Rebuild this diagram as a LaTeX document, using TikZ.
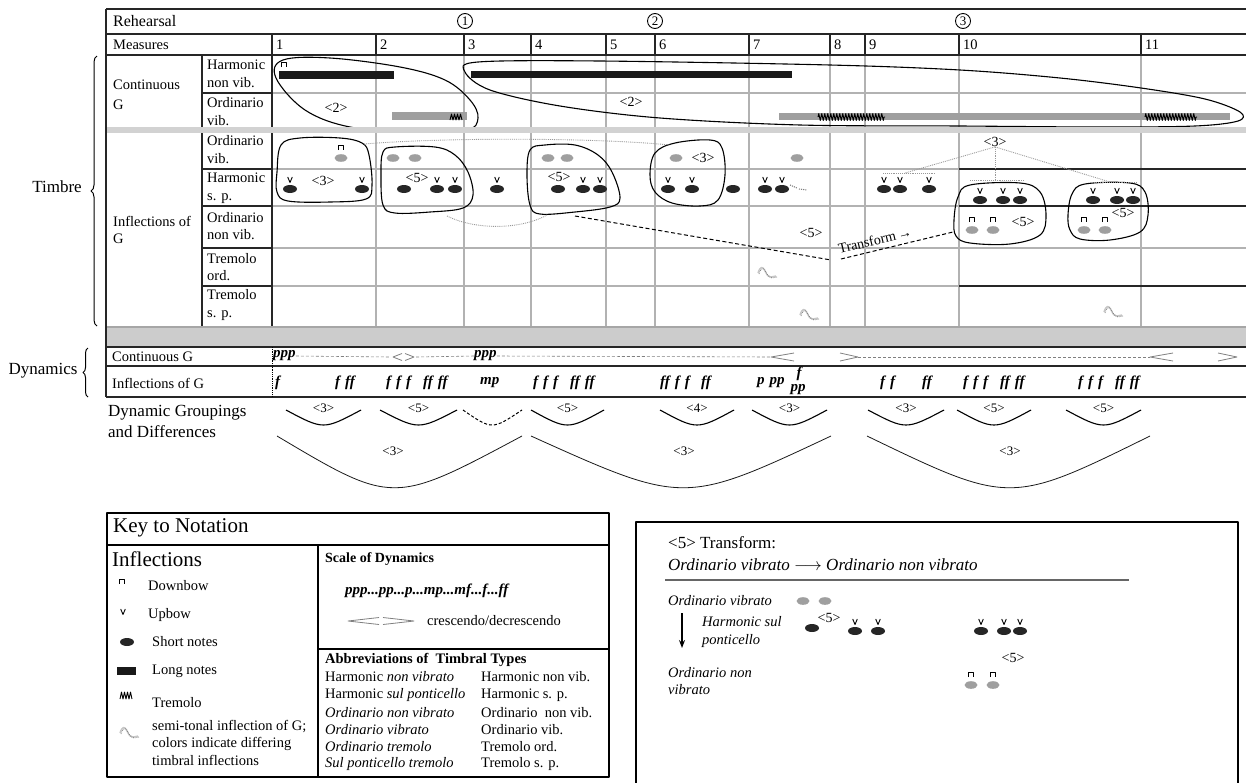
\documentclass[tikz,border=0pt]{standalone}
\usepackage{fontspec}
\setmainfont{Liberation Serif}
\usetikzlibrary{arrows.meta,decorations.pathmorphing,decorations.pathreplacing,positioning}

\newcommand{\fg}{\hspace{5pt}}
\newcommand{\fG}{\hspace{12pt}}

\tikzset{
  gridline/.style={gray!60, line width=1.1pt},
  rule/.style={black!85, line width=1.1pt},
  loopline/.style={black, line width=1.1pt},
  txt/.style={font=\fontsize{14.5}{17.5}\selectfont, inner sep=0pt, anchor=west, align=left},
  dyn/.style={font=\fontsize{15}{15}\selectfont\bfseries\itshape, inner sep=0pt, anchor=west},
  grp/.style={font=\fontsize{13}{14}\selectfont, inner sep=0pt},
  hair/.style={gray, line width=0.8pt},
  dashline/.style={gray, line width=0.6pt, dash pattern=on 3pt off 2pt},
  bnote/.pic={\fill[black!85] (0,0) ellipse[x radius=7pt, y radius=4pt];},
  gnote/.pic={\fill[gray!75] (0,0) ellipse[x radius=6.5pt, y radius=3.8pt];},
  upbow/.pic={\draw[line width=0.9pt] (-2.3,-12) -- (0,-6.5) -- (2.3,-12);},
  downbow/.pic={\draw[line width=1.1pt] (-2.8,-8) -- (-2.8,-12.5) -- (2.8,-12.5) -- (2.8,-8);},
  unote/.pic={\pic{bnote}; \pic{upbow};},
  dnote/.pic={\pic{gnote}; \pic{downbow};},
  trem/.pic={\draw[line width=0.9pt] (-6,3) -- (-4.5,-3) -- (-3,3) -- (-1.5,-3) -- (0,3) -- (1.5,-3) -- (3,3) -- (4.5,-3) -- (6,3);},
  squig/.pic={
    \draw[gray!45, line width=1.4pt] (-9,2) .. controls (-7,-5) and (-4,-5) .. (-2,0) .. controls (0,4) and (1,6) .. (4,6) -- (9,5);
    \draw[gray, densely dotted, line width=0.8pt] (-8,3) .. controls (-6,-4) and (-3,-4) .. (-1,1) .. controls (1,5) and (2,7) .. (5,7) -- (10,6);},
}

\begin{document}
\begin{tikzpicture}[x=1pt, y=-1pt, >=Stealth, line join=round]
  \useasboundingbox (0,0) rectangle (1246,782);
  \clip (0,0) rectangle (1246,782);

  % edges of the score table
  \def\xl{106}
  \def\xr{1252}

  % body grid (gray)
  \foreach \x in {376,464,531,606,655,749,830,865,959,1141}
    \draw[gridline] (\x,55) -- (\x,327);
  \foreach \y in {93,169,206,248,286}
    \draw[gridline] (272,\y) -- (\xr,\y);
  \foreach \y in {93,169,206,248,286}
    \draw[rule] (202,\y) -- (272,\y);
  \foreach \y in {169,206,286}
    \draw[rule] (959,\y) -- (\xr,\y);

  % header rows
  \draw[rule, line width=1.5pt] (\xl,9) -- (\xr,9);
  \draw[rule] (\xl,34) -- (\xr,34);
  \draw[rule] (\xl,55) -- (\xr,55);
  \foreach \x in {272,376,464,531,606,655,749,830,865,959,1141}
    \draw[rule] (\x,34) -- (\x,55);
  \draw[rule] (202,55) -- (202,327);
  \draw[rule] (272,55) -- (272,327);

  \node[txt, font=\fontsize{16}{18}\selectfont] (reh) at (113,21) {Rehearsal};
  \node[txt] (meas) at (113,45) {Measures};
  \foreach \n/\x in {1/465,2/655,3/963}
    \node[draw, circle, line width=0.9pt, inner sep=0pt, minimum size=15pt,
          font=\fontsize{13}{13}\selectfont] (r\n) at (\x,21) {\n};
  \foreach \n/\x in {1/272,2/376,3/464,4/531,5/606,6/655,7/749,8/830,9/865,10/959,11/1141}
    \node[txt] (m\n) at (\x+4,45) {\n};

  % row labels
  \node[txt] (cg) at (113,95) {Continuous\\[3pt]G};
  \node[txt] (ig) at (113,230) {Inflections of\\G};
  \foreach \t/\y [count=\i] in {Harmonic\\non vib./74, Ordinario\\vib./111.5, Ordinario\\vib./149.5,
      Harmonic\\s. p./188, Ordinario\\non vib./226, Tremolo\\ord./267, Tremolo\\s. p./305}
    \node[txt] (row\i) at (207,\y) {\t};

  \node[font=\fontsize{17}{19}\selectfont, inner sep=0pt] (timbre) at (57,187) {Timbre};
  \draw[line width=1pt, decorate, decoration={brace, amplitude=6pt}] (97,326) -- (97,56);
  \node[font=\fontsize{17}{19}\selectfont, inner sep=0pt] (dynam) at (43,371) {Dynamics};
  \draw[line width=1pt, decorate, decoration={brace, amplitude=5pt}] (88,397) -- (88,348);

  % continuous G: long notes
  \fill[black!90] (279,71) rectangle (394,79);
  \fill[black!90] (471,71) rectangle (792,78);
  \pic at (284,75) {downbow};
  \fill[gray!75] (392,112) rectangle (467,120);
  \pic at (456,117) {trem};
  \fill[gray!75] (779,113) rectangle (1230,120);
  \draw[line width=0.9pt, decorate, decoration={zigzag, segment length=3pt, amplitude=3.5pt}] (818,117) -- (885,117);
  \draw[line width=0.9pt, decorate, decoration={zigzag, segment length=3pt, amplitude=3.5pt}] (1145,117) -- (1197,117);

  \draw[loopline] plot[smooth cycle, tension=0.6] coordinates {
    (276,78) (283,60) (330,58) (400,67) (445,80) (470,100) (478,118) (466,130) (410,131) (350,127) (305,110)};
  \draw[loopline] plot[smooth cycle, tension=0.55] coordinates {
    (465,72) (478,62) (600,61) (830,65) (960,70) (1060,78) (1141,88) (1205,99) (1240,112) (1238,121)
    (1195,126) (1100,127) (960,126) (800,125) (660,118) (560,106) (490,90)};
  \node[grp, font=\fontsize{14}{14}\selectfont] (g2a) at (336,108) {<2>};
  \node[grp, font=\fontsize{14}{14}\selectfont] (g2b) at (631,102) {<2>};

  % gray band between continuous G and inflections
  \fill[gray!35] (\xl,127) rectangle (\xr,133);

  % inflections of G: notes
  \pic at (341,158) {dnote};
  \foreach \x in {393,415,548,567,676,797} \pic at (\x,158) {gnote};
  \foreach \x in {290,362,437,455,497,583,600,668,692,765,782,884,900,929} \pic at (\x,189) {unote};
  \foreach \x in {404,558,733} \pic at (\x,189) {bnote};
  \draw[gray, densely dotted, line width=1.1pt] (790,185) -- (797,188);
  \draw[gray, densely dotted, line width=1.1pt] (799,189) -- (807,190);
  \foreach \x in {980,1003,1020,1093,1117,1133} \pic at (\x,200) {unote};
  \foreach \x in {972,993,1084,1105} \pic at (\x,230) {dnote};
  \pic at (767,271) {squig};
  \pic at (809,313) {squig};
  \pic at (1113,310) {squig};

  % groupings of inflections
  \draw[loopline] plot[smooth cycle, tension=0.6] coordinates {
    (277,172) (281,145) (300,138) (340,138) (362,143) (369,155) (372,185) (366,199) (330,202) (288,201) (277,192)};
  \draw[loopline] plot[smooth cycle, tension=0.6] coordinates {
    (381,175) (383,152) (395,147) (435,147) (455,155) (468,172) (473,195) (463,208) (430,212) (395,213) (383,205)};
  \draw[loopline] plot[smooth cycle, tension=0.6] coordinates {
    (527,175) (530,150) (545,145) (575,145) (598,155) (612,172) (620,198) (610,207) (575,212) (540,214) (530,205)};
  \draw[loopline] plot[smooth cycle, tension=0.6] coordinates {
    (650,175) (655,153) (675,143) (710,140) (722,148) (725,175) (718,200) (700,206) (672,203) (655,192)};
  \draw[loopline] plot[smooth cycle, tension=0.6] coordinates {
    (954,220) (958,197) (970,185) (1020,183) (1040,192) (1046,215) (1040,235) (1010,244) (970,243) (956,236)};
  \draw[loopline] plot[smooth cycle, tension=0.6] coordinates {
    (1068,215) (1072,194) (1085,184) (1130,183) (1145,192) (1148,215) (1140,232) (1110,240) (1080,239) (1070,230)};
  \node[grp, font=\fontsize{14}{14}\selectfont] (i3a) at (323,181) {<3>};
  \node[grp, font=\fontsize{14}{14}\selectfont] (i5a) at (417,178) {<5>};
  \node[grp, font=\fontsize{14}{14}\selectfont] (i5b) at (559,177) {<5>};
  \node[grp, font=\fontsize{14}{14}\selectfont] (i3b) at (703,158) {<3>};
  \node[grp, font=\fontsize{14}{14}\selectfont] (i5c) at (811,233) {<5>};
  \node[grp, font=\fontsize{14}{14}\selectfont] (i3c) at (995,142) {<3>};
  \node[grp, font=\fontsize{14}{14}\selectfont] (i5d) at (1023,222) {<5>};
  \node[grp, font=\fontsize{14}{14}\selectfont] (i5e) at (1123,213) {<5>};

  % dotted and dashed links
  \draw[gray!80, densely dotted, line width=0.9pt] (364,144) .. controls (450,137) and (600,138) .. (670,145);
  \draw[gray!80, densely dotted, line width=0.9pt] (447,216) .. controls (475,230) and (520,230) .. (547,215);
  \draw[gray!80, densely dotted, line width=0.9pt] (i3c.south) -- (905,173);
  \draw[gray!80, densely dotted, line width=0.9pt] (i3c.south) -- (995,180);
  \draw[gray!80, densely dotted, line width=0.9pt] (i3c.south) -- (1110,182);
  \draw[gray!80, densely dotted, line width=0.9pt] (883,173) -- (935,173);
  \draw[gray!80, densely dotted, line width=0.9pt] (970,180) -- (1025,180);
  \draw[gray!80, densely dotted, line width=0.9pt] (1092,182) -- (1137,182);
  \draw[black, line width=1pt, dash pattern=on 4pt off 2.5pt] (575,216) -- (831,260);
  \draw[black, line width=1pt, dash pattern=on 4pt off 2.5pt] (841,259) -- (953,232);
  \node[grp, font=\fontsize{14}{14}\selectfont, rotate=13.5] (transf) at (875,240) {Transform\,→};

  % gray band between timbre and dynamics
  \fill[gray!40] (\xl,327) rectangle (\xr,347);
  \draw[gray!70, line width=1.5pt] (\xl,327) -- (\xr,327);
  \draw[rule] (\xl,347) -- (\xr,347);
  \draw[rule] (\xl,366) -- (\xr,366);
  \draw[rule, line width=1.5pt] (\xl,397) -- (\xr,397);
  \draw[rule, line width=1.5pt] (\xl,9) -- (\xl,397);
  \draw[black, densely dotted, line width=0.8pt] (272,347) -- (272,397);

  % dynamics
  \node[txt, font=\fontsize{14.5}{16}\selectfont] (dcg) at (112,357) {Continuous G};
  \node[txt, font=\fontsize{14.5}{16}\selectfont] (dig) at (112,383) {Inflections of G};
  \node[dyn] (ppp1) at (273,356) {ppp};
  \node[dyn] (ppp2) at (474,356) {ppp};
  \draw[dashline] (ppp1.east) -- (390,357);
  \draw[hair] (402,353.5) -- (393,357) -- (402,360.5);
  \draw[hair] (405,353.5) -- (414,357) -- (405,360.5);
  \draw[dashline] (416,357) -- (ppp2.west);
  \draw[dashline] (ppp2.east) -- (771,357);
  \draw[hair] (794,353) -- (771,357) -- (794,361);
  \draw[hair] (840,353) -- (858,357) -- (840,361);
  \draw[dashline] (858,357) -- (1150,357);
  \draw[hair] (1173,353) -- (1150,357) -- (1173,361);
  \draw[hair] (1218,353) -- (1237,357) -- (1218,361);

  \foreach \t/\x [count=\i] in {f/275, f\fg ff/335, f\fg f\fg f\fG ff\fg ff/386, mp/480, f\fg f\fg f\fG ff\fg ff/533,
      ff\fg f\fg f/660, ff/701, p\fg pp/757, f\fg f/880, ff/922, f\fg f\fg f\fG ff\fg ff/963, f\fg f\fg f\fG ff\fg ff/1078}
    \node[dyn] (inf\i) at (\x,383) {\t};
  \node[dyn, anchor=center] (fhi) at (799,374) {f};
  \node[dyn, anchor=center] (pplo) at (798,390) {pp};

  % dynamic groupings
  \node[txt, font=\fontsize{17}{21}\selectfont] (dgd) at (108,421) {Dynamic Groupings\\and Differences};
  \foreach \a/\b/\t [count=\i] in {286/361/3, 380/457/5, 531/604/5, 660/734/4, 752/827/3, 868/944/3, 957/1031/5, 1066/1141/5} {
    \draw[black, line width=1.1pt] (\a,410) .. controls ({(\a+\b)/2},430) .. (\b,410);
    \node[grp] (dg\i) at ({(\a+\b)/2},408) {<\t>};
  }
  \draw[black, densely dashed, line width=1pt] (463,410) .. controls (492,430) .. (522,410);
  \foreach \a/\b/\m [count=\i] in {277/522/393, 531/831/684, 867/1150/1010} {
    \draw[gray!20!black, line width=0.8pt] (\a,436) .. controls (\m,505) .. (\b,436);
    \node[grp] (dd\i) at (\m,451) {<3>};
  }

  % key to notation
  \draw[line width=1.2pt] (107,513) rectangle (609,777);
  \draw[line width=1.2pt] (107,545) -- (609,545);
  \draw[line width=1.2pt] (318,545) -- (318,777);
  \draw[line width=1.2pt] (318,649) -- (609,649);
  \node[txt, font=\fontsize{21}{24}\selectfont] (keyt) at (113,528) {Key to Notation};
  \node[txt, font=\fontsize{21}{24}\selectfont] (infl) at (112,559) {Inflections};
  \pic at (122,592) {downbow};
  \pic at (123,621) {upbow};
  \pic at (127,642) {bnote};
  \fill[black!90] (117,667) rectangle (136,675);
  \draw[line width=0.9pt] (120,699) -- (121.5,692) -- (123,699) -- (124.5,692) -- (126,699) -- (127.5,692) -- (129,699) -- (130.5,692) -- (132,699);
  \pic at (129,731) {squig};
  \node[txt] (kdb) at (148,586) {Downbow};
  \node[txt] (kub) at (148,615) {Upbow};
  \node[txt] (ksn) at (152,642) {Short notes};
  \node[txt] (kln) at (152,671) {Long notes};
  \node[txt] (ktr) at (152,703) {Tremolo};
  \node[txt, anchor=north west] (kst) at (152,720) {semi-tonal inflection of G;\\colors indicate differing\\timbral inflections};

  \node[txt, font=\fontsize{14}{16}\selectfont\bfseries] (sod) at (325,559) {Scale of Dynamics};
  \node[dyn, font=\fontsize{15}{15}\selectfont\bfseries\itshape] (scale) at (345,591) {ppp...pp...p...mp...mf...f...ff};
  \draw[hair] (379,617.5) -- (348,621) -- (379,624.5);
  \draw[hair] (383,617.5) -- (414,621) -- (383,624.5);
  \node[txt] (cres) at (427,621) {crescendo/decrescendo};
  \node[txt, font=\fontsize{14.5}{17}\selectfont\bfseries] (abb) at (325,660) {Abbreviations of\ \ Timbral Types};
  \foreach \l/\r/\y [count=\i] in {Harmonic \textit{non vibrato}/Harmonic non vib./677,
      Harmonic \textit{sul ponticello}/Harmonic s. p./695,
      \textit{Ordinario non vibrato}/Ordinario\ \ non vib./713,
      \textit{Ordinario vibrato}/Ordinario vib./730,
      \textit{Ordinario tremolo}/Tremolo ord./747,
      \textit{Sul ponticello tremolo}/Tremolo s. p./764} {
    \node[txt] (abl\i) at (325,\y) {\l};
    \node[txt] (abr\i) at (481,\y) {\r};
  }

  % transform box
  \draw[line width=1.2pt] (636,522) rectangle (1238,800);
  \node[txt, font=\fontsize{17}{20}\selectfont] (tft) at (668,543) {<5> Transform:};
  \node[txt, font=\fontsize{17}{20}\selectfont\itshape] (tfr) at (668,565) {Ordinario vibrato $\longrightarrow$ Ordinario non vibrato};
  \draw[gray!80!black, line width=1.1pt] (665,580) -- (1129,580);
  \node[txt, font=\fontsize{14.5}{17.5}\selectfont\itshape] (tov) at (668,601) {Ordinario vibrato};
  \node[txt, font=\fontsize{14.5}{17.5}\selectfont\itshape] (ths) at (702,632) {Harmonic sul\\ponticello};
  \node[txt, font=\fontsize{14.5}{17.5}\selectfont\itshape] (ton) at (668,681) {Ordinario non\\vibrato};
  \coordinate (dtop) at (682,613);
  \coordinate (dbot) at (682,648);
  \draw[->, line width=1.1pt] (dtop) -- (dbot);
  \foreach \x in {803,825} \pic at (\x,601) {gnote};
  \pic at (812,628) {bnote};
  \foreach \x in {855,878,981,1004,1020} \pic at (\x,631) {unote};
  \foreach \x in {971,993} \pic at (\x,685) {dnote};
  \node[grp, font=\fontsize{14}{14}\selectfont] (t5a) at (829,618) {<5>};
  \node[grp, font=\fontsize{14}{14}\selectfont] (t5b) at (1013,658) {<5>};
\end{tikzpicture}
\end{document}
